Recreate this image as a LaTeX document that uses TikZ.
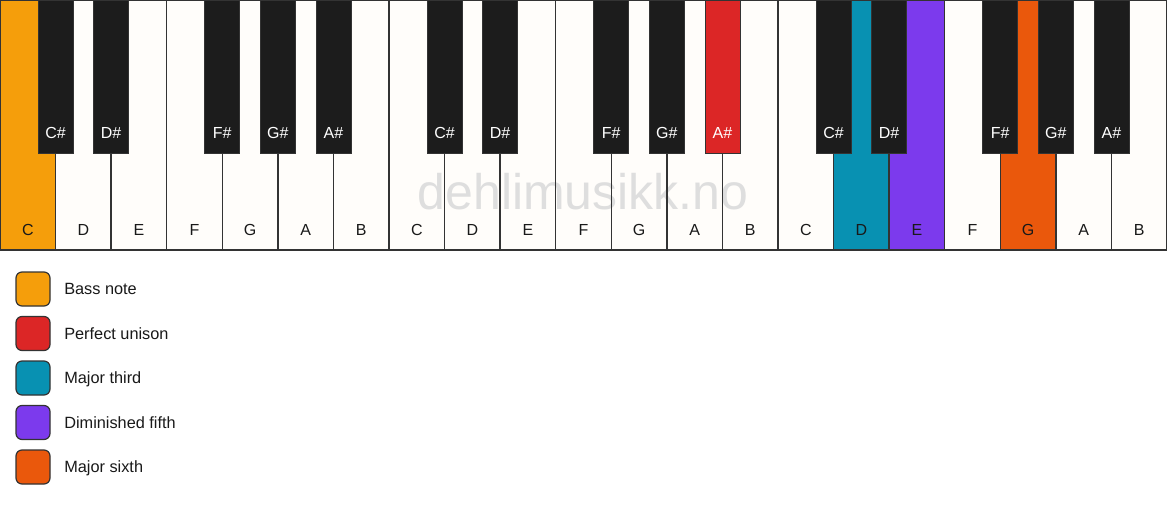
\documentclass[tikz,border=0pt]{standalone}
\usepackage{fontspec}
\setmainfont{Liberation Sans}
\usepackage{xcolor}
\definecolor{keywhite}{HTML}{FFFDFA}
\definecolor{keyblack}{HTML}{1C1C1C}
\definecolor{keyline}{HTML}{333333}
\definecolor{bassnote}{HTML}{F59E0B}
\definecolor{unison}{HTML}{DC2626}
\definecolor{majthird}{HTML}{0891B2}
\definecolor{dimfifth}{HTML}{7C3AED}
\definecolor{majsixth}{HTML}{EA580C}
\definecolor{wmgrey}{HTML}{DEDEDE}
\newcommand{\kw}{55.571}

\tikzset{
  whitekey/.style={fill=keywhite, anchor=north west,
    minimum width=\kw pt, minimum height=250pt, inner sep=0pt, outer sep=0pt},
  keyborder/.style={draw=keyline, line width=1.5pt},
  blackkey/.style={draw=keyline, line width=0.8pt, fill=keyblack, anchor=north,
    minimum width=35pt, minimum height=153pt, inner sep=0pt, outer sep=0pt},
  keylabel/.style={inner sep=0pt, text height=11.6pt, text depth=0pt,
    font=\fontsize{16}{19}\selectfont},
  legendbox/.style={draw=keyline, line width=1.2pt, rounded corners=6pt,
    minimum size=34pt, inner sep=0pt},
  legendtext/.style={anchor=west, inner sep=0pt, text height=11.6pt, text depth=0pt,
    font=\fontsize{16.3}{19}\selectfont, text=black!90},
}

\begin{document}
\begin{tikzpicture}[x=1pt, y=-1pt]
  \useasboundingbox[fill=white] (0,0) rectangle (1167,506);
  % white keys
  \foreach \i/\n/\c in {0/C/bassnote, 1/D/keywhite, 2/E/keywhite, 3/F/keywhite, 4/G/keywhite,
      5/A/keywhite, 6/B/keywhite, 7/C/keywhite, 8/D/keywhite, 9/E/keywhite, 10/F/keywhite,
      11/G/keywhite, 12/A/keywhite, 13/B/keywhite, 14/C/keywhite, 15/D/majthird,
      16/E/dimfifth, 17/F/keywhite, 18/G/majsixth, 19/A/keywhite, 20/B/keywhite}{
    \node[whitekey, fill=\c] (w\i) at (\i*\kw, 0) {};
    \node[keylabel, text=black!90] (wl\i) at ([yshift=20pt]w\i.south) {\n};
  }
  \node[inner sep=0pt, text height=36pt, text depth=0pt, text=wmgrey,
    font=\fontsize{50}{60}\selectfont] (wm) at (583,191.5) {dehlimusikk.no};
  \foreach \i in {0,...,20}
    \draw[keyborder] (w\i.north west) rectangle (w\i.south east);
  % black keys
  \foreach \b/\n/\c in {1/C/keyblack, 2/D/keyblack, 4/F/keyblack, 5/G/keyblack, 6/A/keyblack,
      8/C/keyblack, 9/D/keyblack, 11/F/keyblack, 12/G/keyblack, 13/A/unison,
      15/C/keyblack, 16/D/keyblack, 18/F/keyblack, 19/G/keyblack, 20/A/keyblack}{
    \node[blackkey, fill=\c] (b\b) at (\b*\kw, 0) {};
    \node[keylabel, text=white] (bl\b) at ([yshift=20pt]b\b.south) {\n\#};
  }
  % legend
  \foreach \j/\c/\t in {0/bassnote/Bass note, 1/unison/Perfect unison, 2/majthird/Major third,
      3/dimfifth/Diminished fifth, 4/majsixth/Major sixth}{
    \node[legendbox, fill=\c] (lb\j) at (33, 289+\j*44.5) {};
    \node[legendtext] (lt\j) at ([xshift=13.5pt]lb\j.east) {\t};
  }
\end{tikzpicture}
\end{document}
